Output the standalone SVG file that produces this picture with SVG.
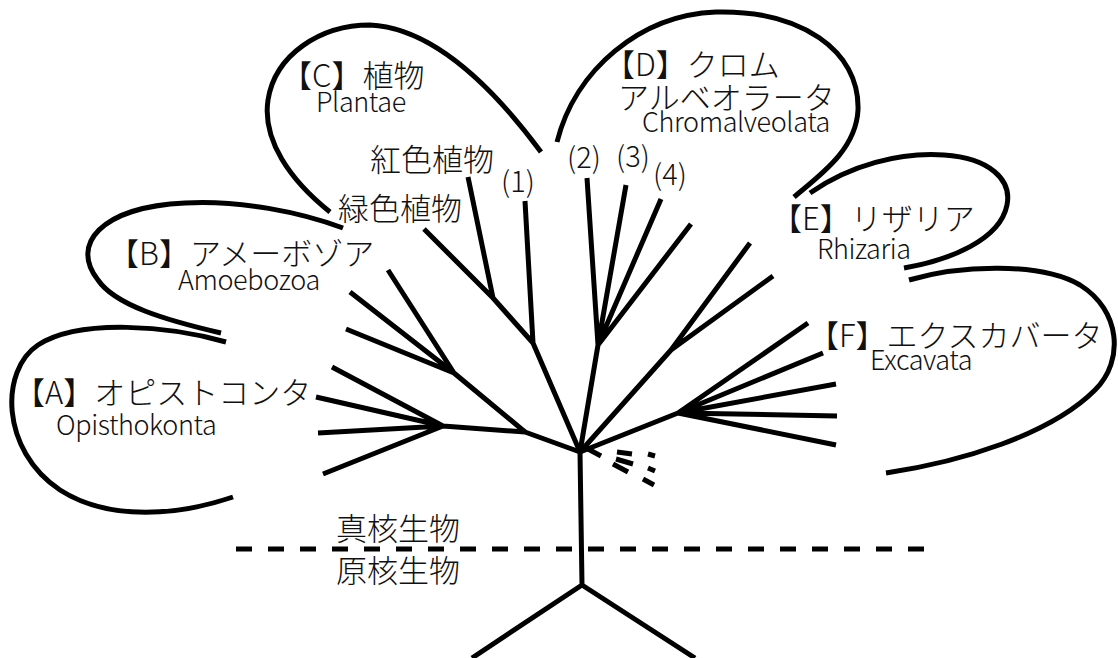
<svg xmlns="http://www.w3.org/2000/svg" width="1118" height="658" viewBox="0 0 1118 658">
<style>
.ln{fill:none;stroke:#000;stroke-width:5;stroke-linecap:butt;stroke-linejoin:round}
.loop{fill:none;stroke:#000;stroke-width:5;stroke-linecap:butt}
.jp{font-family:"Noto Sans CJK JP","Noto Sans CJK SC",sans-serif;font-size:31px;font-weight:300;fill:#111}
.en{font-family:"Noto Sans CJK JP","Noto Sans",sans-serif;font-size:27px;font-weight:300;letter-spacing:-0.4px;fill:#111}
.num{font-family:"Noto Sans CJK JP","Noto Sans",sans-serif;font-size:29px;font-weight:300;fill:#111}
</style>
<rect width="1118" height="658" fill="#fff"/>
<g id="loops">
<path class="loop" d="M226,342 C170,326 80,318 38,345 C0,370 0,450 60,490 C110,522 180,515 233,497"/>
<path class="loop" d="M343,228 C300,212 240,200 185,203 C100,207 70,245 98,280 C115,305 165,320 221,333"/>
<path class="loop" d="M330,212 C290,180 262,140 268,100 C275,55 320,25 370,25 C435,28 495,90 541,152"/>
<path class="loop" d="M557,142 C575,70 640,15 716,12 C800,10 860,50 858,110 C856,150 820,175 794,197"/>
<path class="loop" d="M810,193 C850,165 900,152 944,155 C990,158 1012,180 1007,205 C1000,240 950,260 904,268"/>
<path class="loop" d="M909,280 C960,265 1040,262 1080,285 C1120,310 1125,360 1095,390 C1050,435 960,462 886,473"/>
</g>
<g id="connectors">
<path class="ln" d="M580,452 L582,585 M582,585 L472,658 M582,585 L695,658"/>
<path class="ln" d="M580,452 L525,432 L443,426 M443,426 L332,367 M443,426 L316,397 M443,426 L318,433 M443,426 L323,474"/>
<path class="ln" d="M525,432 L454,373 M454,373 L346,329 M454,373 L350,292 M454,373 L388,270"/>
<path class="ln" d="M580,452 L533,343 L493,298 L424,229 M493,298 L468,177 M533,343 L525,201"/>
<path class="ln" d="M580,452 L598,345 M598,345 L587,178 M598,345 L626,185 M598,345 L661,199 M598,345 L691,224"/>
<path class="ln" d="M580,452 L671,350 L750,243 M671,350 L773,276"/>
<path class="ln" d="M580,452 L678,413 M678,413 L808,323 M678,413 L823,353 M678,413 L836,384 M678,413 L837,416 M678,413 L836,445"/>
<path class="ln" d="M588,449 L601,456 M617,452 L632,454 M616,459 L633,464 M613,464 L628,472 M648,454 L655,456 M648,468 L655,471 M643,479 L654,485"/>
<path class="ln" d="M236,549 L925,549" stroke-dasharray="16 16" stroke-width="5.5"/>
</g>
<g id="clade-A"><text class="jp" x="14" y="404">【A】オピストコンタ</text><text class="en" x="56" y="435">Opisthokonta</text></g>
<g id="clade-B"><text class="jp" x="108" y="265">【B】アメーボゾア</text><text class="en" x="178" y="290">Amoebozoa</text></g>
<g id="clade-C"><text class="jp" x="281" y="87">【C】植物</text><text class="en" x="316" y="112">Plantae</text></g>
<g id="red-algae"><text class="jp" x="370" y="171">紅色植物</text></g>
<g id="green-plants"><text class="jp" x="338" y="220">緑色植物</text></g>
<g id="n1"><text class="num" x="501" y="192">(1)</text></g>
<g id="n2"><text class="num" x="567" y="168">(2)</text></g>
<g id="n3"><text class="num" x="616" y="167">(3)</text></g>
<g id="n4"><text class="num" x="653" y="185">(4)</text></g>
<g id="clade-D"><text class="jp" x="604" y="76">【D】クロム</text><text class="jp" x="618" y="109">アルベオラータ</text><text class="en" x="642" y="132">Chromalveolata</text></g>
<g id="clade-E"><text class="jp" x="771" y="230">【E】リザリア</text><text class="en" x="817" y="259">Rhizaria</text></g>
<g id="clade-F"><text class="jp" x="808" y="347">【F】エクスカバータ</text><text class="en" x="870" y="370">Excavata</text></g>
<g id="eukaryote"><text class="jp" x="336" y="540">真核生物</text></g>
<g id="prokaryote"><text class="jp" x="336" y="582">原核生物</text></g>
</svg>
